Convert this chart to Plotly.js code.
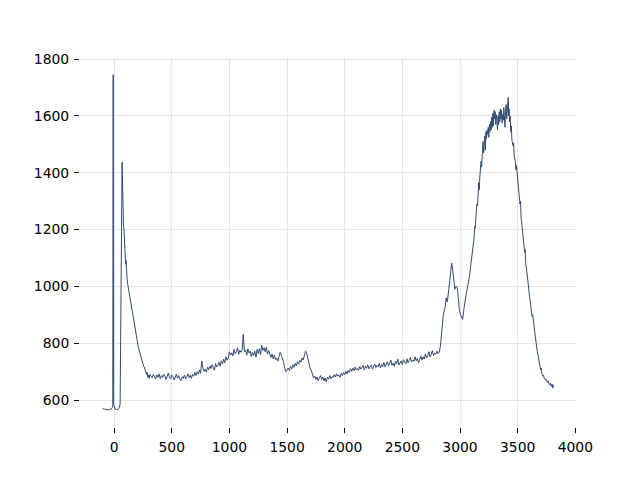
<!DOCTYPE html>
<html>
<head>
<meta charset="utf-8">
<script src="https://cdn.plot.ly/plotly-3.0.1.min.js"></script>
<style>html,body{margin:0;padding:0;background:#fff;}#chart{width:640px;height:480px;}</style>
</head>
<body>
<div id="chart"></div>
<script>
// Segment 1: baseline and the two early spikes
const xStart = [-100,-92,-84,-76,-68,-60,-52,-44,-36,-28,-20,-12,-8,-4,
  2,8,14,20,26,32,38,44,52,58,63,69,72,75,78,81,85,89,93,97];
const yStart = [570,568,567,568,566,567,565,566,568,567,570,578,1745,585,
  572,568,566,567,565,568,571,574,585,900,1300,1437,1390,1300,1230,1212,1205,1160,1120,1090];

// Segment 2: decay after the second spike
const xDecay = [100,103,106,109,113,117,121,126,131,136,142,148,154,160,166,172,178,184,190,196,
  202,208,214,220,226,232,238,244,250,256,262,268,274,280,286,292,298,304,310];
const yDecay = [1078,1092,1050,1062,1025,1010,1000,985,975,960,955,935,915,900,885,872,860,845,830,818,
  805,790,782,772,765,752,745,735,728,718,716,705,700,690,698,680,688,676,690];

// Segment 3: long plateau, x = 320 ... 2830
const xFlat = [
  320,330,340,350,360,370,380,390,400,410,
  420,430,440,450,460,470,480,490,500,510,
  520,530,540,550,560,570,580,590,600,610,
  620,630,640,650,660,670,680,690,700,710,
  720,730,740,750,760,770,780,790,800,810,
  820,830,840,850,860,870,880,890,900,910,
  920,930,940,950,960,970,980,990,1000,1010,
  1020,1030,1040,1050,1060,1070,1080,1090,1100,1110,
  1120,1130,1140,1150,1160,1170,1180,1190,1200,1210,
  1220,1230,1240,1250,1260,1270,1280,1290,1300,1310,
  1320,1330,1340,1350,1360,1370,1380,1390,1400,1410,
  1420,1430,1440,1450,1460,1470,1480,1490,1500,1510,
  1520,1530,1540,1550,1560,1570,1580,1590,1600,1610,
  1620,1630,1640,1650,1660,1670,1680,1690,1700,1710,
  1720,1730,1740,1750,1760,1770,1780,1790,1800,1810,
  1820,1830,1840,1850,1860,1870,1880,1890,1900,1910,
  1920,1930,1940,1950,1960,1970,1980,1990,2000,2010,
  2020,2030,2040,2050,2060,2070,2080,2090,2100,2110,
  2120,2130,2140,2150,2160,2170,2180,2190,2200,2210,
  2220,2230,2240,2250,2260,2270,2280,2290,2300,2310,
  2320,2330,2340,2350,2360,2370,2380,2390,2400,2410,
  2420,2430,2440,2450,2460,2470,2480,2490,2500,2510,
  2520,2530,2540,2550,2560,2570,2580,2590,2600,2610,
  2620,2630,2640,2650,2660,2670,2680,2690,2700,2710,
  2720,2730,2740,2750,2760,2770,2780,2790,2800,2810,
  2820,2830];
const yFlat = [
  684,678,690,681,674,688,680,692,676,686,
  679,690,684,672,686,695,680,674,688,682,
  670,684,691,677,686,673,668,682,676,688,
  674,683,692,679,687,676,690,684,697,686,
  699,691,706,694,738,712,701,708,698,716,
  706,720,711,724,713,705,728,716,722,733,
  719,738,727,744,731,752,740,748,770,758,
  766,755,779,762,770,784,761,775,768,774,
  832,770,776,758,780,766,772,753,768,757,
  772,751,778,764,781,760,793,775,784,770,
  786,762,774,757,750,762,745,758,741,748,
  737,752,768,758,746,733,712,700,706,712,
  704,718,710,724,715,729,720,735,726,740,
  733,748,741,758,772,764,748,725,712,704,
  690,678,684,672,681,668,679,686,672,681,
  667,678,664,680,673,686,675,683,679,690,
  681,692,684,688,680,694,686,697,689,701,
  692,704,697,710,701,712,703,716,706,711,
  704,718,709,714,721,707,719,712,724,710,
  716,723,709,720,727,714,722,717,729,713,
  725,718,732,716,723,735,720,728,741,722,
  730,719,736,727,744,723,731,738,725,742,
  733,727,745,731,739,750,734,741,736,752,
  738,746,731,749,755,740,752,744,762,748,
  756,770,752,760,774,757,765,761,772,763,
  768,790];

// Segment 4: shoulder peak near 2930 and the dip near 3020
const xShoulder = [2840,2855,2870,2880,2890,2900,2910,2920,2928,2936,2945,2955,2965,2975,2985,2995,
  3005,3015,3023,3032,3042,3052,3062,3072,3082,3092,
  3102,3112,3122,3127,3132,3142,3147,3152,3162,3167,3172,3182,3187,3192,3197];
const yShoulder = [830,900,925,960,945,985,1010,1050,1082,1060,1010,990,1000,998,960,915,
  900,890,884,915,950,970,990,1010,1035,1070,
  1100,1145,1170,1210,1205,1270,1290,1285,1365,1340,1385,1440,1420,1480,1470];

// Segment 5: main peak top
const xTop = [3200,3205,3210,3215,3220,3225,3230,3235,3240,3245,
  3250,3255,3260,3265,3270,3275,3280,3285,3290,3295,
  3300,3305,3310,3315,3320,3325,3330,3335,3340,3345,
  3350,3355,3360,3365,3370,3375,3380,3385,3390,3395,
  3400,3405,3410,3415,3418,3422,3426,3430,3435];
const yTop = [1510,1470,1495,1530,1480,1545,1520,1550,1535,1560,
  1525,1570,1545,1580,1550,1595,1560,1610,1565,1620,
  1590,1615,1570,1605,1585,1550,1600,1570,1615,1580,
  1625,1590,1620,1575,1605,1585,1630,1595,1560,1615,
  1640,1590,1625,1650,1665,1600,1625,1580,1600];

// Segment 6: falling edge and tail
const xFall = [3440,3445,3450,3460,3465,3470,3480,3485,3490,3500,3505,3510,3520,3525,3530,3540,3545,3550,3560,3565,3570,3580,3585,3590,
  3600,3605,3610,3620,3625,3630,3640,3645,3650,3660,3670,3680,3685,3690,3700,3705,3710,3720,3725,3730,
  3740,3745,3750,3760,3765,3770,3780,3785,3790,3800,3805,3810];
const yFall = [1545,1565,1515,1495,1505,1460,1440,1410,1425,1380,1360,1345,1290,1300,1240,1205,1180,1170,1120,1130,1080,1050,1020,1015,
  975,960,950,915,895,900,860,845,835,800,772,752,740,728,706,712,693,684,688,676,
  672,675,666,662,668,658,654,660,648,656,642,652];

const xTicks = [0,500,1000,1500,2000,2500,3000,3500,4000];
const yTicks = [600,800,1000,1200,1400,1600,1800];

const xVals = [].concat(xStart, xDecay, xFlat, xShoulder, xTop, xFall);
const yVals = [].concat(yStart, yDecay, yFlat, yShoulder, yTop, yFall);

const trace = {
  x: xVals, y: yVals, type: 'scatter', mode: 'lines',
  line: {color: '#2f4b6e', width: 1}, hoverinfo: 'skip'
};
const axisFont = {family: 'DejaVu Sans', size: 13.9, color: '#000'};
const layout = {
  width: 640, height: 480,
  margin: {l: 80, r: 64, t: 57.6, b: 52.8, pad: 0},
  paper_bgcolor: '#fff', plot_bgcolor: '#fff',
  showlegend: false,
  xaxis: {
    range: [-296, 4006], tickvals: xTicks, ticktext: xTicks.map(String),
    showgrid: true, gridcolor: '#e6e6e6', gridwidth: 1, zeroline: false,
    showline: false, ticks: 'outside', ticklen: 5, tickwidth: 1, tickcolor: '#000',
    tickfont: axisFont, ticklabelstandoff: 2
  },
  yaxis: {
    range: [505, 1804], tickvals: yTicks, ticktext: yTicks.map(String),
    showgrid: true, gridcolor: '#e6e6e6', gridwidth: 1, zeroline: false,
    showline: false, ticks: 'outside', ticklen: 5, tickwidth: 1, tickcolor: '#000',
    tickfont: axisFont, ticklabelstandoff: 2
  }
};
Plotly.newPlot('chart', [trace], layout, {staticPlot: true, displayModeBar: false});
</script>
</body>
</html>
